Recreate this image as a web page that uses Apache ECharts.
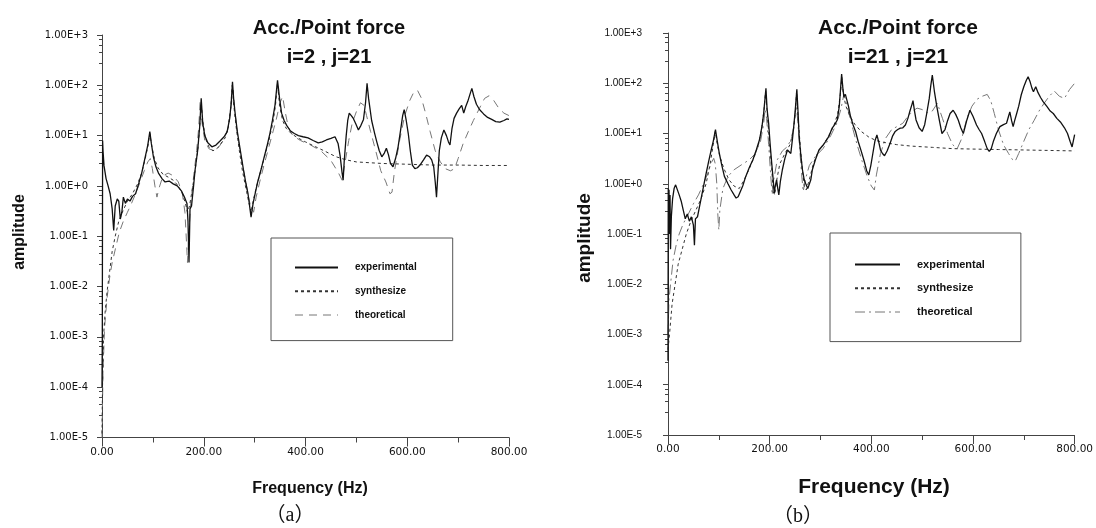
<!DOCTYPE html>
<html><head><meta charset="utf-8">
<script src="https://cdn.jsdelivr.net/npm/echarts@6/dist/echarts.min.js"></script>
<style>html,body{margin:0;padding:0;background:#fff}#c{width:1096px;height:528px}</style>
</head><body><div id="c"></div>
<script>
// ---------- tick labels ----------
const xTickLabels = ['0.00', '200.00', '400.00', '600.00', '800.00'];
const yTickLabels = ['1.00E-5', '1.00E-4', '1.00E-3', '1.00E-2', '1.00E-1', '1.00E+0', '1.00E+1', '1.00E+2', '1.00E+3'];
const seriesNames = ['experimental', 'synthesize', 'theoretical'];
const titlesA = ['Acc./Point force', 'i=2 , j=21'];
const titlesB = ['Acc./Point force', 'i=21 , j=21'];

// ---------- (a) i=2, j=21 : [frequency Hz, amplitude] ----------
const expA = [[0,1e-4],[0.6,1e-3],[1.2,8],[2,5],[4,2.5],[8,1.4],[12,1.0],[16,0.7],[20,0.35],[23,0.13],[26,0.4],[30,0.55],[33,0.5],[36,0.22],[39,0.3],[42,0.6],[46,0.45],[50,0.55],[55,0.5],[60,0.62],[66,0.7],[72,1.1],[78,1.8],[85,3.8],[90,6.5],[94,12],[97,7],[101,3.8],[106,2.4],[111,1.8],[118,1.4],[124,1.2],[132,1.25],[140,1.1],[148,1.0],[156,0.8],[162,0.6],[167,0.45],[169,0.2],[171,0.03],[173,0.35],[176,0.4],[180,1.0],[183,2.1],[188,5],[192,15],[195,55],[198,18],[202,10],[208,7.2],[216,6],[224,6.5],[232,7.8],[240,9.5],[246,12],[251,22],[254,45],[256.5,118],[259,50],[262,26],[266,12],[272,5],[278,2.1],[283,1.1],[287,0.7],[293,0.24],[297,0.45],[301,0.7],[306,1.2],[312,2],[318,3.5],[324,6],[330,11],[335,20],[340,40],[345,125],[349,55],[353,28],[358,20],[363,16],[370,12.5],[378,11],[386,10],[395,9.5],[405,9],[415,8],[425,7.2],[433,7.5],[441,8.2],[450,8.8],[458,9.5],[464,7],[468,4],[472,1.8],[474,1.3],[476,3],[480,10],[483,20],[486,28],[490,25],[494,22],[499,17],[504,13],[509,16],[514,21],[518,45],[521,110],[524,55],[530,20],[536,11],[540,7.6],[545,5],[550,3.8],[555,4.5],[559,5.6],[563,4.2],[567,2.8],[572,2.4],[577,3.5],[582,6],[587,13],[591,25],[594,33],[598,20],[602,11],[606,5],[610,2.6],[615,2.2],[620,2.3],[625,2.6],[632,3.3],[638,4.1],[644,3.8],[648,3.3],[652,2.4],[655,1.2],[657.5,0.6],[660,1.6],[663,5],[667,9],[672,13],[677,10],[681,7.5],[684,6.5],[688,14],[692,22],[697,28],[702,34],[707,40],[711,28],[715,38],[719,48],[724,70],[727,87],[731,60],[736,42],[742,33],[750,27],[758,23],[766,21],[774,19],[782,18.5],[790,20],[796,21.5],[800,21]];
const synA = [[0,1.2e-5],[1,1e-4],[3,1e-3],[6,3e-3],[10,8e-3],[15,2e-2],[20,5e-2],[26,0.1],[33,0.2],[40,0.3],[50,0.5],[60,0.7],[70,1.1],[78,1.8],[85,3.5],[90,6],[94,11],[98,6],[103,3.5],[110,2.3],[120,1.7],[130,1.5],[140,1.3],[150,1.0],[158,0.7],[164,0.45],[168,0.3],[172,0.4],[177,0.8],[183,2],[189,6],[193,20],[195,45],[198,20],[203,9],[210,6],[218,5],[226,5.5],[234,7],[242,9],[248,14],[253,35],[256,100],[259,40],[264,14],[270,5],[276,2],[282,1],[288,0.5],[293,0.3],[298,0.55],[304,1],[312,2],[320,4],[328,8],[336,18],[341,40],[345,110],[349,40],[355,20],[362,14],[372,11],[385,9],[400,7.5],[420,6],[440,4.8],[460,3.8],[480,3.3],[500,3],[550,2.8],[600,2.7],[650,2.6],[700,2.6],[750,2.55],[800,2.55]];
const theoA = [[0,1e-5],[2,2e-4],[5,1.5e-3],[10,6e-3],[15,1.5e-2],[20,3e-2],[27,6e-2],[34,0.12],[42,0.2],[50,0.3],[58,0.45],[66,0.7],[75,1.2],[83,2],[90,3],[95,3.5],[99,2.2],[104,1.0],[108,0.6],[112,0.9],[120,1.6],[130,1.8],[140,1.6],[150,1.2],[158,0.7],[163,0.3],[166,0.08],[168,0.03],[170,0.08],[174,0.4],[180,1.5],[186,5],[190,14],[193,50],[196,20],[202,8],[210,5.5],[220,5],[230,6],[240,8.5],[248,14],[254,40],[258,80],[262,25],[268,8],[275,3],[282,1.3],[288,0.6],[292,0.4],[298,0.3],[303,0.6],[310,1.2],[318,2.5],[326,5],[334,10],[342,20],[350,45],[355,60],[360,30],[366,15],[375,10],[390,8],[410,6.5],[430,5],[450,3.2],[465,1.8],[472,1.3],[478,3],[485,8],[492,18],[500,30],[508,45],[515,40],[520,25],[528,12],[538,5],[548,2],[558,1.2],[566,0.7],[570,0.75],[575,2],[585,8],[595,25],[605,50],[612,70],[620,80],[628,55],[636,28],[645,12],[655,5],[665,3],[675,2.2],[685,2],[693,2.2],[700,3.5],[710,7],[720,12],[730,20],[742,35],[752,55],[761,62],[770,50],[780,35],[790,28],[800,25]];

// ---------- (b) i=21, j=21 ----------
const expB = [[0,3e-4],[0.5,0.8],[1,0.3],[2,0.76],[3,0.1],[4,0.6],[5,0.05],[6.6,0.22],[9,0.5],[12,0.8],[15,0.95],[18,0.9],[22,0.6],[26,0.45],[30,0.3],[34,0.2],[38,0.25],[42,0.18],[46,0.22],[50,0.15],[52,0.06],[54,0.2],[58,0.22],[62,0.35],[66,0.56],[70,0.9],[75,1.6],[80,2.8],[85,4.7],[89,7],[93.4,12],[97,7],[101,4],[106,2.3],[111,1.4],[118,1.0],[124,0.76],[130,0.6],[134,0.52],[138,0.55],[141,0.6],[147,0.9],[153,1.4],[160,2.1],[167,3],[174,4.8],[180,7.5],[185,14],[188,24],[192.7,79],[195,30],[198,16],[201,6],[204,2.6],[207,1.2],[209,0.65],[211,0.9],[213.6,1.2],[216,0.8],[218,0.6],[221,1.1],[225,1.9],[230,3.2],[235,4.7],[238,5],[241.6,4],[245,8],[248,16],[251,35],[253.5,76],[256,25],[258,8.7],[261,4],[264.5,1.9],[268,1.2],[271,1.0],[275,0.8],[278,0.82],[281,1.2],[284,1.9],[290,3],[297,4.7],[304,5.7],[310,6.9],[317,9],[323,12.8],[328,15],[333,18.6],[337,35],[341.6,152],[344,80],[346,54],[349,60],[352,62],[355,35],[359,22],[364,15],[369,11],[374,7],[380,4.5],[386,2.8],[391,1.8],[395,1.5],[399,2.3],[403,4],[407,7],[411,9.4],[415,6.5],[418,4.7],[422,4],[426,3.6],[431,4.5],[437,6.4],[442,9],[447,11],[452,12],[457,12.8],[462,13],[467,14.8],[472,20],[476,28],[480,38],[482,45],[485,28],[488,18.6],[494,13],[500,11],[505,15],[509,25],[514,50],[517,90],[520,146],[524,70],[529,34],[534,18],[539,10],[545,12],[550,18],[555,25],[561,29],[566,24],[571,18.6],[576,13],[581,10],[584,13],[588,18.6],[594,29],[600,22],[607,14.8],[612,12],[617,10],[623,6.9],[628,5],[632,4.4],[636,5],[640,6.9],[646,10],[653,13.7],[660,15],[666,16],[670,22],[672.5,27],[676,18],[679,13.7],[682,18],[686,25],[690,35],[695,59],[700,85],[705,115],[708.5,135],[712,110],[716,80],[719,68],[721,75],[723.5,85],[728,65],[733,52],[738,43],[745,35],[752,28],[758,25],[765,20],[772,17],[780,13],[786,10],[791,7],[795,5.4],[797,5.5],[800,9.5]];
const synB = [[0,5e-4],[3,1e-3],[8,4e-3],[14,1e-2],[20,2.5e-2],[28,5e-2],[36,0.1],[45,0.18],[55,0.3],[65,0.5],[75,1.0],[83,2.5],[89,6],[93,11],[97,6],[102,3.5],[110,2],[120,1.2],[130,0.9],[140,0.8],[150,1.2],[160,2],[170,3.5],[178,6],[184,12],[189,30],[192,70],[196,20],[200,6],[204,2],[207,0.7],[210,0.6],[214,1.2],[220,2.5],[230,4],[240,6],[247,12],[251,30],[253,70],[256,20],[260,6],[264,2],[268,0.9],[272,0.75],[278,1.2],[286,2.5],[296,4.5],[306,6],[316,9],[326,14],[334,25],[339,60],[342,130],[345,60],[350,35],[358,22],[368,15],[380,11],[395,8.5],[410,7.2],[430,6.5],[450,6],[480,5.6],[520,5.3],[560,5],[600,4.9],[650,4.8],[700,4.7],[750,4.6],[800,4.5]];
const theoB = [[0,1e-3],[2,5e-3],[5,1e-2],[10,3e-2],[16,6e-2],[22,0.1],[30,0.16],[40,0.25],[50,0.4],[60,0.6],[70,1.0],[78,1.6],[85,2.6],[90,3.2],[93,2.5],[96,1.0],[98,0.25],[100,0.12],[102,0.3],[108,0.8],[118,1.4],[130,1.9],[145,2.4],[160,3],[172,4],[182,7],[188,15],[191,30],[194,20],[198,6],[202,1.5],[205,0.6],[208,1.2],[215,3],[225,4.5],[235,5.5],[243,8],[248,15],[252,35],[255,20],[259,5],[263,1.5],[266,0.7],[270,1.2],[278,2.3],[290,3.5],[305,5],[320,9],[332,16],[340,30],[346,60],[350,45],[356,25],[364,12],[372,6],[382,2.8],[392,1.4],[400,0.9],[406,0.75],[410,1.5],[418,4],[428,8],[440,12],[452,14],[462,16],[472,22],[482,28],[490,32],[500,30],[510,26],[520,28],[530,40],[535,28],[540,20],[550,10],[560,6],[569,5],[578,8],[588,20],[598,35],[608,48],[618,55],[628,60],[635,45],[642,25],[650,12],[660,6],[670,4],[678,3],[683,2.8],[690,4],[700,7],[710,12],[720,18],[730,28],[740,40],[750,55],[760,70],[770,55],[780,50],[790,75],[800,100]];

// ---------- chart ----------
const chart = echarts.init(document.getElementById('c'), null, {renderer: 'canvas'});
const AX = '#444';
const dashTheoA = [8, 6];
const dashTheoB = [10, 4, 2, 4];
function xAxisCfg(grid) {
  return {
    type: 'value', gridIndex: grid, min: 0, max: 800, interval: 200,
    axisLine: {lineStyle: {color: AX, width: 1}},
    axisTick: {show: true, length: 9, lineStyle: {color: AX}},
    minorTick: {show: true, splitNumber: 2, length: 5, lineStyle: {color: AX}},
    splitLine: {show: false},
    axisLabel: {margin: 9, color: '#111', fontFamily: 'DejaVu Sans', fontSize: 10.5,
      formatter: v => xTickLabels[Math.round(v / 200)]}
  };
}
function yAxisCfg(grid, font, size, margin) {
  return {
    type: 'log', logBase: 10, gridIndex: grid, min: 1e-5, max: 1e3, interval: 1,
    axisLine: {lineStyle: {color: AX, width: 1}},
    axisTick: {show: true, length: 5, lineStyle: {color: AX}},
    minorTick: {show: true, splitNumber: 5, length: 3, lineStyle: {color: AX}},
    splitLine: {show: false},
    axisLabel: {margin: margin, color: '#111', fontFamily: font, fontSize: size,
      formatter: v => yTickLabels[Math.round(Math.log10(v)) + 5]}
  };
}
function line(name, data, gi, color, width, type) {
  return {name, type: 'line', xAxisIndex: gi, yAxisIndex: gi, data,
    symbol: 'none', showSymbol: false, silent: true,
    lineStyle: {color, width, type}, itemStyle: {color}};
}
function legendCfg(left, top, pad, fs, iw, theoDash) {
  return {
    orient: 'vertical', left, top, padding: pad,
    borderColor: '#555', borderWidth: 1,
    itemWidth: iw, itemHeight: 14, itemGap: 12.5,
    selectedMode: false,
    itemStyle: {opacity: 0, color: 'rgba(0,0,0,0)', borderWidth: 0},
    textStyle: {fontFamily: 'Liberation Sans', fontWeight: 'bold', fontSize: fs, color: '#111', padding: [0,0,0,12]},
    data: [
      {name: seriesNames[0]},
      {name: seriesNames[1]},
      {name: seriesNames[2], lineStyle: {type: theoDash, color: '#777', width: 1}}
    ]
  };
}
const titleFont = 'Liberation Sans';
chart.setOption({
  animation: false,
  backgroundColor: '#fff',
  title: [
    {text: titlesA.join('\n'), left: 324, top: 9, textAlign: 'center',
     textStyle: {fontFamily: titleFont, fontWeight: 'bold', fontSize: 20, lineHeight: 29, color: '#111'}},
    {text: titlesB.join('\n'), left: 893, top: 9, textAlign: 'center',
     textStyle: {fontFamily: titleFont, fontWeight: 'bold', fontSize: 21, lineHeight: 29, color: '#111'}}
  ],
  grid: [
    {left: 102, top: 35, width: 407, height: 402.5},
    {left: 668, top: 33, width: 408.5, height: 402}
  ],
  xAxis: [xAxisCfg(0), xAxisCfg(1)],
  yAxis: [yAxisCfg(0, 'DejaVu Sans', 10, 14), yAxisCfg(1, 'Liberation Sans', 10, 26)],
  legend: [
    legendCfg(271, 238, [24, 36, 20, 23], 10, 43, dashTheoA),
    legendCfg(830, 233, [26, 36, 24, 24], 11, 45, dashTheoB)
  ],
  series: [
    line('theoretical', theoA, 0, '#777', 1, dashTheoA),
    line('synthesize', synA, 0, '#333', 1, [3, 3]),
    line('experimental', expA, 0, '#111', 1.3, 'solid'),
    line('theoretical', theoB, 1, '#777', 1, dashTheoB),
    line('synthesize', synB, 1, '#333', 1, [3, 3]),
    line('experimental', expB, 1, '#111', 1.3, 'solid')
  ],
  graphic: [
    {type: 'text', x: 20, y: 232, rotation: Math.PI / 2,
     style: {text: 'amplitude', font: 'bold 16px "Liberation Sans"', fill: '#111', align: 'center', verticalAlign: 'middle', textAlign: 'center', textVerticalAlign: 'middle'}},
    {type: 'text', x: 585, y: 238, rotation: Math.PI / 2,
     style: {text: 'amplitude', font: 'bold 19px "Liberation Sans"', fill: '#111', align: 'center', verticalAlign: 'middle', textAlign: 'center', textVerticalAlign: 'middle'}},
    {type: 'text', x: 310, y: 489,
     style: {text: 'Frequency (Hz)', font: 'bold 16px "Liberation Sans"', fill: '#111', align: 'center', verticalAlign: 'middle', textAlign: 'center', textVerticalAlign: 'middle'}},
    {type: 'text', x: 874, y: 487,
     style: {text: 'Frequency (Hz)', font: 'bold 21px "Liberation Sans"', fill: '#111', align: 'center', verticalAlign: 'middle', textAlign: 'center', textVerticalAlign: 'middle'}},
    {type: 'text', x: 290, y: 516,
     style: {text: '（a）', font: '20px "Liberation Serif", "Noto Sans CJK SC"', fill: '#111', align: 'center', verticalAlign: 'middle', textAlign: 'center', textVerticalAlign: 'middle'}},
    {type: 'text', x: 798, y: 517,
     style: {text: '（b）', font: '20px "Liberation Serif", "Noto Sans CJK SC"', fill: '#111', align: 'center', verticalAlign: 'middle', textAlign: 'center', textVerticalAlign: 'middle'}}
  ]
});
</script></body></html>
